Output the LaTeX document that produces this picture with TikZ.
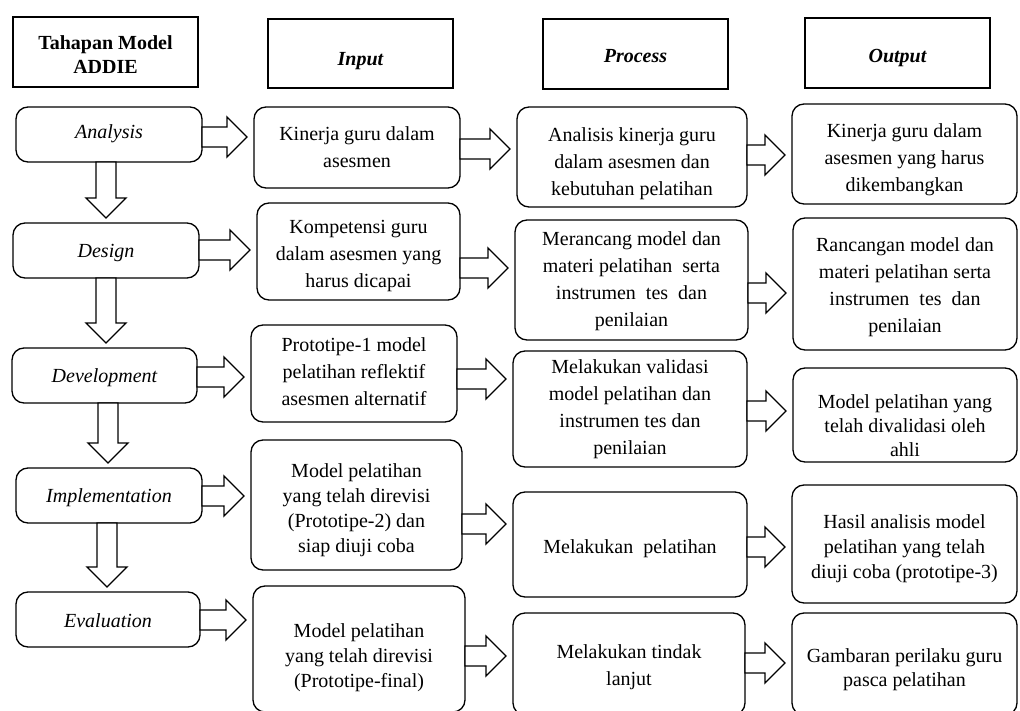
\documentclass[tikz,border=0pt]{standalone}
\usepackage{fontspec}
\setmainfont{Liberation Serif}
\usetikzlibrary{calc}
\tikzset{
  hdr/.style={draw, line width=1.3pt, rectangle, outer sep=0pt, inner sep=0pt},
  rbox/.style={draw, line width=1.3pt, rectangle, rounded corners=12pt, outer sep=0pt, inner sep=0pt},
  txt/.style={inner sep=0pt, align=center, font=\fontsize{20}{27}\selectfont},
  htxt/.style={inner sep=0pt, align=center, font=\fontsize{20}{24}\selectfont\bfseries},
  stxt/.style={inner sep=0pt, align=center, font=\fontsize{20}{27}\selectfont\itshape},
  bs/.style={font=\fontsize{20}{#1}\selectfont},
  blockarrow/.style={draw, line width=1.3pt, fill=white, line join=miter},
}
% right block arrow: source, target, y (px from top)
\newcommand\rarr[3]{%
  \draw[blockarrow] let \p1=(#1.east), \p2=(#2.west) in
    (\x1,-#3pt+10pt) -- (\x2-27pt,-#3pt+10pt) -- (\x2-27pt,-#3pt+20pt) -- (\x2-7pt,-#3pt)
    -- (\x2-27pt,-#3pt-20pt) -- (\x2-27pt,-#3pt-10pt) -- (\x1,-#3pt-10pt) -- cycle;}
% down block arrow: source, target, x (px)
\newcommand\darr[3]{%
  \draw[blockarrow] let \p1=(#1.south), \p2=(#2.north) in
    (#3pt-10pt,\y1) -- (#3pt-10pt,\y2+25pt) -- (#3pt-20pt,\y2+25pt) -- (#3pt,\y2+5pt)
    -- (#3pt+20pt,\y2+25pt) -- (#3pt+10pt,\y2+25pt) -- (#3pt+10pt,\y1) -- cycle;}
% box: style, name, cx, cy, w, h, text y, text style, text
\newcommand\bx[9]{%
  \node[#1, minimum width=#5pt, minimum height=#6pt] (#2) at (#3,-#4) {};
  \node[#8] (#2t) at (#2.center |- 0,-#7) {#9};}
\begin{document}
\begin{tikzpicture}[x=1pt,y=1pt]
\useasboundingbox (0,0) rectangle (1020,-711);
\clip (0,0) rectangle (1020,-711);
% headers
\bx{hdr}{h0}{105.5}{52}{185}{70}{55}{htxt}{Tahapan Model\\ADDIE}
\bx{hdr}{h1}{360.5}{53.5}{185}{69}{61}{htxt}{\itshape Input}
\bx{hdr}{h2}{635.5}{54}{185}{70}{56}{htxt}{\itshape Process}
\bx{hdr}{h3}{897.5}{53}{185}{70}{58}{htxt}{\itshape Output}
% stages
\bx{rbox}{l1}{109}{134.5}{186}{55}{134}{stxt}{Analysis}
\bx{rbox}{l2}{106}{250.5}{186}{55}{253}{stxt}{Design}
\bx{rbox}{l3}{104.5}{375.5}{185}{55}{378}{stxt}{Development}
\bx{rbox}{l4}{109}{495.5}{186}{55}{498}{stxt}{Implementation}
\bx{rbox}{l5}{108}{619.5}{184}{55}{620.5}{stxt}{Evaluation}
% input
\bx{rbox}{i1}{357}{147.5}{206}{81}{147.5}{txt}{Kinerja guru dalam\\asesmen}
\bx{rbox}{i2}{358.5}{251.5}{203}{97}{256}{txt}{Kompetensi guru\\dalam asesmen yang\\harus dicapai}
\bx{rbox}{i3}{354}{373.5}{206}{97}{371.5}{txt}{Prototipe-1 model\\pelatihan reflektif\\asesmen alternatif}
\bx{rbox}{i4}{356.5}{505}{211}{130}{510}{txt,bs=25}{Model pelatihan\\yang telah direvisi\\(Prototipe-2) dan\\siap diuji coba}
\bx{rbox}{i5}{359}{649}{212}{126}{658}{txt,bs=25}{Model pelatihan\\yang telah direvisi\\(Prototipe-final)}
% process
\bx{rbox}{p1}{632}{157}{230}{100}{164}{txt}{Analisis kinerja guru\\dalam asesmen dan\\kebutuhan pelatihan}
\bx{rbox}{p2}{631.5}{280}{233}{120}{281}{txt}{Merancang model dan\\materi pelatihan\ \ serta\\instrumen\ \ tes\ \ dan\\penilaian}
\bx{rbox}{p3}{630}{409}{234}{116}{409}{txt}{Melakukan validasi\\model pelatihan dan\\instrumen tes dan\\penilaian}
\bx{rbox}{p4}{630}{544.5}{234}{105}{548.5}{txt}{Melakukan\ \ pelatihan}
\bx{rbox}{p5}{629}{664}{232}{102}{667}{txt}{Melakukan tindak\\lanjut}
% output
\bx{rbox}{o1}{904.5}{154}{225}{100}{160}{txt}{Kinerja guru dalam\\asesmen yang harus\\dikembangkan}
\bx{rbox}{o2}{905}{284}{224}{132}{287}{txt}{Rancangan model dan\\materi pelatihan serta\\instrumen\ \ tes\ \ dan\\penilaian}
\bx{rbox}{o3}{905}{415}{224}{94}{426}{txt,bs=24}{Model pelatihan yang\\telah divalidasi oleh\\ahli}
\bx{rbox}{o4}{904.5}{544}{225}{118}{549}{txt,bs=25}{Hasil analisis model\\pelatihan yang telah\\diuji coba (prototipe-3)}
\bx{rbox}{o5}{904.5}{664}{225}{102}{670}{txt,bs=24}{Gambaran perilaku guru\\pasca pelatihan}
% down arrows
\darr{l1}{l2}{106}
\darr{l2}{l3}{106}
\darr{l3}{l4}{108}
\darr{l4}{l5}{107}
% right arrows
\rarr{l1}{i1}{137} \rarr{i1}{p1}{149} \rarr{p1}{o1}{155}
\rarr{l2}{i2}{250} \rarr{i2}{p2}{268} \rarr{p2}{o2}{293}
\rarr{l3}{i3}{377} \rarr{i3}{p3}{379} \rarr{p3}{o3}{411}
\rarr{l4}{i4}{496} \rarr{i4}{p4}{524} \rarr{p4}{o4}{547}
\rarr{l5}{i5}{620} \rarr{i5}{p5}{656} \rarr{p5}{o5}{663}
\end{tikzpicture}
\end{document}
